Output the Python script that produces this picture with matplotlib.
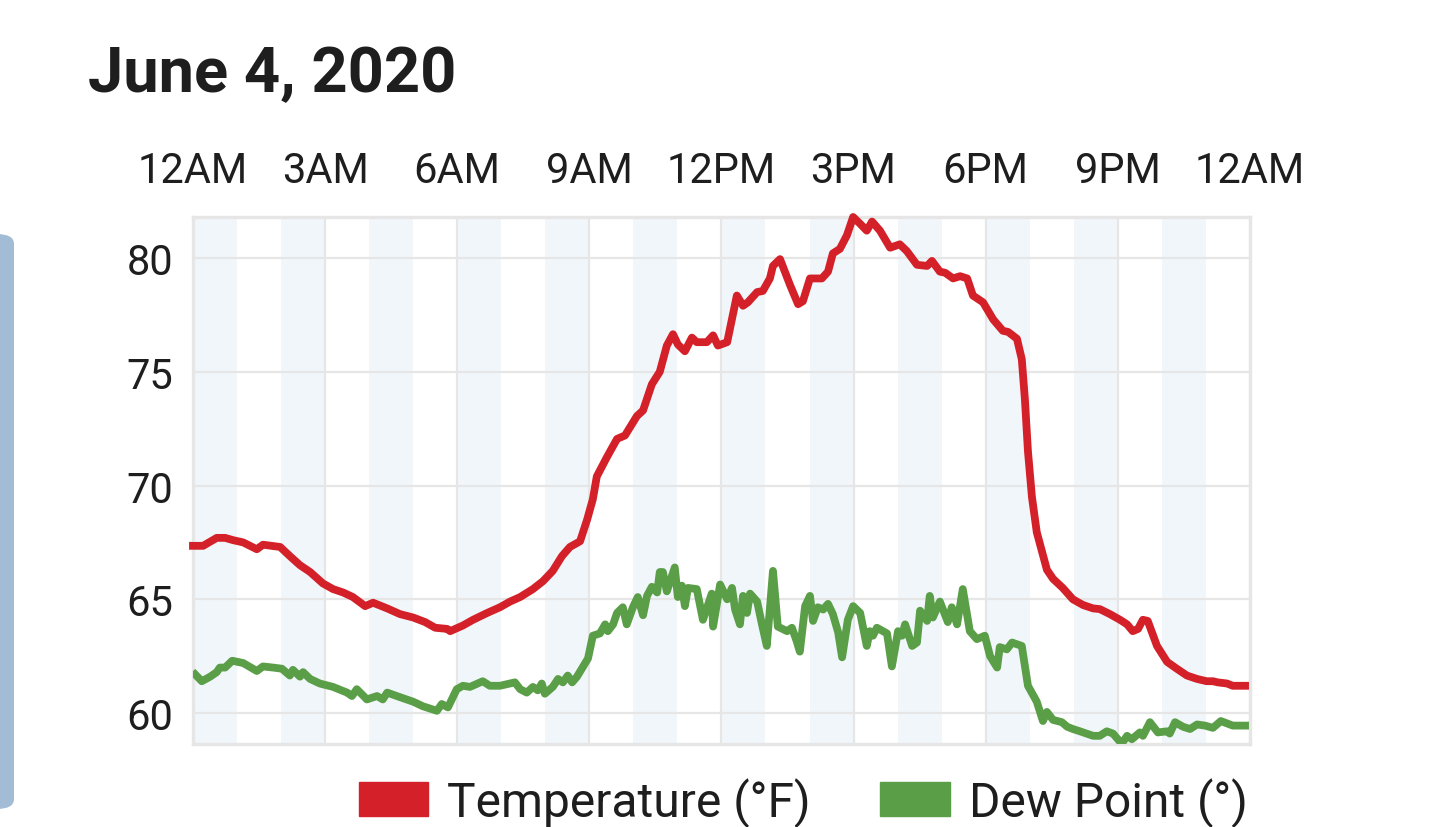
import matplotlib
matplotlib.use('Agg')
import matplotlib.pyplot as plt
from matplotlib.patches import FancyBboxPatch, Patch

plt.rcParams['font.family'] = ['Roboto', 'DejaVu Sans']

# Temperature (hours after midnight, deg F)
temp_hours = [0.00, 0.23, 0.54, 0.73, 0.91, 1.14, 1.45, 1.59, 1.98, 2.20, 2.43, 2.66, 2.95,
              3.18, 3.41, 3.63, 3.91, 4.09, 4.41, 4.70, 5.00, 5.27, 5.50, 5.77, 5.84, 6.13,
              6.36, 6.68, 6.97, 7.20, 7.43, 7.72, 7.95, 8.17, 8.38, 8.56, 8.79, 8.95, 9.08,
              9.17, 9.40, 9.63, 9.81, 10.08, 10.22, 10.42, 10.60, 10.76, 10.90, 11.01, 11.17,
              11.33, 11.44, 11.67, 11.81, 11.92, 12.13, 12.35, 12.49, 12.60, 12.81, 12.94,
              13.10, 13.17, 13.33, 13.44, 13.56, 13.74, 13.85, 14.01, 14.28, 14.42, 14.53,
              14.69, 14.85, 14.99, 15.15, 15.30, 15.42, 15.60, 15.83, 16.05, 16.21, 16.44,
              16.67, 16.78, 16.96, 17.08, 17.26, 17.42, 17.58, 17.71, 17.94, 18.17, 18.39,
              18.51, 18.71, 18.82, 18.89, 18.96, 19.05, 19.16, 19.39, 19.53, 19.75, 19.98,
              20.21, 20.44, 20.59, 20.82, 21.05, 21.21, 21.34, 21.46, 21.57, 21.68, 21.89,
              22.12, 22.34, 22.57, 22.80, 23.02, 23.16, 23.27, 23.48, 23.61, 23.89]
temperature = [67.35, 67.35, 67.7, 67.7, 67.6, 67.5, 67.2, 67.4, 67.3, 66.9, 66.5, 66.2, 65.7,
               65.45, 65.3, 65.1, 64.7, 64.85, 64.6, 64.35, 64.2, 64.0, 63.75, 63.7, 63.6, 63.85,
               64.1, 64.4, 64.65, 64.9, 65.1, 65.45, 65.8, 66.25, 66.9, 67.3, 67.55, 68.5, 69.4,
               70.4, 71.25, 72.05, 72.2, 73.05, 73.3, 74.45, 75.0, 76.15, 76.65, 76.2, 75.9,
               76.5, 76.3, 76.3, 76.6, 76.15, 76.3, 78.35, 77.9, 78.05, 78.5, 78.55,
               79.1, 79.65, 79.95, 79.4, 78.8, 77.97, 78.1, 79.1, 79.1, 79.4, 80.2,
               80.4, 81.0, 81.8, 81.5, 81.2, 81.6, 81.2, 80.45, 80.6, 80.3, 79.7,
               79.65, 79.87, 79.4, 79.35, 79.1, 79.2, 79.1, 78.35, 78.05, 77.3, 76.8,
               76.75, 76.45, 75.55, 73.8, 71.5, 69.5, 67.95, 66.3, 65.9, 65.5, 65.0,
               64.75, 64.6, 64.57, 64.35, 64.1, 63.9, 63.6, 63.7, 64.1, 64.05, 62.95,
               62.25, 61.95, 61.65, 61.5, 61.4, 61.4, 61.35, 61.3, 61.2, 61.2]

# Dew point (hours after midnight, deg)
dew_hours = [0.05, 0.20, 0.39, 0.54, 0.61, 0.73, 0.89, 1.14, 1.45, 1.59, 1.82, 2.02, 2.20,
             2.27, 2.43, 2.50, 2.66, 2.88, 3.18, 3.50, 3.61, 3.72, 3.95, 4.18, 4.31, 4.41,
             4.70, 5.00, 5.22, 5.54, 5.65, 5.79, 5.99, 6.13, 6.29, 6.58, 6.74, 6.97, 7.20,
             7.31, 7.43, 7.58, 7.72, 7.83, 7.92, 7.99, 8.17, 8.29, 8.40, 8.51, 8.61, 8.72,
             8.83, 8.97, 9.08, 9.24, 9.36, 9.42, 9.54, 9.63, 9.76, 9.85, 9.99, 10.10, 10.22,
             10.31, 10.42, 10.54, 10.60, 10.67, 10.76, 10.94, 11.01, 11.10, 11.17, 11.24,
             11.44, 11.58, 11.78, 11.81, 11.97, 12.13, 12.24, 12.31, 12.42, 12.49, 12.58,
             12.65, 12.81, 12.92, 13.03, 13.17, 13.28, 13.49, 13.60, 13.71, 13.78, 13.90,
             14.01, 14.08, 14.19, 14.31, 14.42, 14.53, 14.65, 14.74, 14.87, 14.99, 15.15,
             15.30, 15.37, 15.44, 15.53, 15.76, 15.87, 16.01, 16.10, 16.17, 16.33, 16.44,
             16.51, 16.67, 16.73, 16.80, 16.96, 17.14, 17.23, 17.35, 17.48, 17.64, 17.80,
             17.98, 18.10, 18.26, 18.32, 18.48, 18.60, 18.82, 18.96, 19.16, 19.30, 19.39,
             19.53, 19.73, 19.85, 19.98, 20.14, 20.44, 20.59, 20.75, 20.89, 21.09, 21.21,
             21.32, 21.50, 21.57, 21.73, 21.91, 22.12, 22.18, 22.30, 22.48, 22.64, 22.80,
             22.98, 23.16, 23.34, 23.61, 23.89]
dew_point = [61.7, 61.4, 61.6, 61.8, 62.0, 62.0, 62.3, 62.2, 61.85, 62.05, 62.0, 61.95, 61.65,
             61.9, 61.6, 61.8, 61.5, 61.3, 61.15, 60.9, 60.75, 61.05, 60.6, 60.75, 60.6, 60.9,
             60.7, 60.5, 60.3, 60.1, 60.4, 60.25, 61.05, 61.2, 61.15, 61.4, 61.2, 61.2, 61.3,
             61.35, 61.05, 60.9, 61.15, 61.0, 61.3, 60.85, 61.15, 61.5, 61.35, 61.65, 61.35, 61.6,
             61.95, 62.4, 63.4, 63.5, 63.9, 63.6, 63.9, 64.4, 64.65, 63.9, 64.65, 65.1, 64.3,
             65.15, 65.55, 65.3, 66.2, 66.2, 65.35, 66.4, 65.1, 65.6, 64.7, 65.5,
             65.45, 64.1, 65.25, 63.8, 65.65, 65.0, 65.5, 64.55, 63.9, 65.15, 64.4,
             65.25, 64.9, 63.9, 62.95, 66.25, 63.8, 63.6, 63.75, 63.15, 62.7, 64.7,
             65.15, 64.05, 64.65, 64.55, 64.8, 64.35, 63.55, 62.45, 64.1, 64.7, 64.4,
             62.95, 63.6, 63.4, 63.75, 63.5, 62.05, 63.6, 63.4, 63.9, 62.95, 63.1,
             64.5, 64.05, 65.15, 64.2, 64.9, 64.0, 64.65, 63.9, 65.45, 63.6, 63.25,
             63.4, 62.5, 62.0, 62.9, 62.8, 63.1, 62.95, 61.2, 60.5, 59.65, 60.05,
             59.7, 59.6, 59.4, 59.3, 59.2, 59.0, 59.0, 59.2, 59.1, 58.65, 59.0,
             58.85, 59.15, 59.0, 59.6, 59.15, 59.2, 59.1, 59.6, 59.4, 59.3, 59.5,
             59.45, 59.35, 59.65, 59.45, 59.45]

x_ticks = [0, 3, 6, 9, 12, 15, 18, 21, 24]
x_labels = ['12AM', '3AM', '6AM', '9AM', '12PM', '3PM', '6PM', '9PM', '12AM']
y_ticks = [60, 65, 70, 75, 80]

red = '#d42029'
green = '#5a9e48'
grid_col = '#e6e6e6'
text_col = '#1e1e1e'

fig = plt.figure(figsize=(14.4, 8.28), dpi=100)
ax = fig.add_axes([0.134, 0.1002, 0.734, 0.6365])

# alternating hour shading
for h in range(0, 24, 2):
    ax.axvspan(h, h + 1, color='#f1f6fb', lw=0, zorder=0)

ax.plot(temp_hours, temperature, color=red, lw=5.6, zorder=3, clip_on=False,
        solid_joinstyle='round')
ax.plot(dew_hours, dew_point, color=green, lw=5.6, zorder=3, solid_joinstyle='round')

ax.set_xlim(0, 24)
ax.set_ylim(58.64, 81.8)
ax.set_xticks(x_ticks)
ax.set_xticklabels(x_labels)
ax.set_yticks(y_ticks)
ax.xaxis.tick_top()
ax.tick_params(axis='x', length=0, pad=19, labelsize=30, labelcolor=text_col)
ax.tick_params(axis='y', length=0, pad=14, labelsize=30, labelcolor=text_col)
ax.grid(True, color=grid_col, lw=1.6, zorder=1)
ax.set_axisbelow(True)
for s in ax.spines.values():
    s.set_color(grid_col)
    s.set_linewidth(2.4)

fig.text(88 / 1440, 1 - 92 / 828, 'June 4, 2020', fontsize=45.5, fontweight='bold',
         color=text_col, ha='left', va='baseline')

handles = [Patch(color=red, label='Temperature (°F)'),
           Patch(color=green, label='Dew Point (°)')]
fig.legend(handles=handles, loc='center right', bbox_to_anchor=(1248 / 1440, 1 - 803 / 828),
           ncol=2, frameon=False, fontsize=34.5, handlelength=1.45, handleheight=0.7,
           handletextpad=0.4, columnspacing=1.45, borderpad=0, borderaxespad=0,
           labelcolor=text_col)

# card edge on the left
fig.patches.append(FancyBboxPatch((-20 / 1440, 1 - 810 / 828), 34 / 1440, 575 / 828,
                                  boxstyle='round,pad=0,rounding_size=0.012',
                                  transform=fig.transFigure, facecolor='#a3bcd6',
                                  edgecolor='none'))

fig.savefig('out.png', dpi=100)
